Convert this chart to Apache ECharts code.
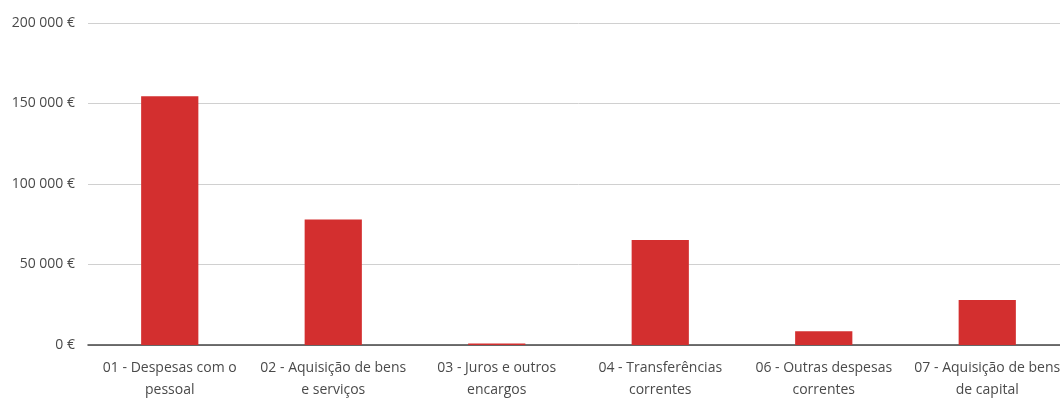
<!DOCTYPE html>
<html>
<head>
<meta charset="utf-8">
<script src="https://cdn.jsdelivr.net/npm/echarts@6/dist/echarts.min.js"></script>
<style>
  html, body { margin: 0; padding: 0; background: #fff; overflow: hidden; }
  /* o gráfico original é cortado à direita */
  #echarts { width: 1069px; height: 401px; }
</style>
</head>
<body>
<div id="echarts"></div>
<script>
// categorias (com quebra de linha como no original)
var categories = [
  '01 - Despesas com o\npessoal',
  '02 - Aquisição de bens\ne serviços',
  '03 - Juros e outros\nencargos',
  '04 - Transferências\ncorrentes',
  '06 - Outras despesas\ncorrentes',
  '07 - Aquisição de bens\nde capital'
];
var valores = [154500, 78000, 900, 65200, 8500, 28000];
var yTicks = [0, 50000, 100000, 150000, 200000];

var fonte = "'Open Sans', sans-serif";

function fmtEuro(v){
  return String(v).replace(/\B(?=(\d{3})+(?!\d))/g, ' ') + ' €';
}

var option = {
  animation: false,
  grid: {
    top: 23,
    left: 88,
    right: 0,
    bottom: 55,
    containLabel: false
  },
  xAxis: {
    type: 'category',
    data: categories,
    axisTick: { show: false },
    axisLine: { lineStyle: { color: '#444', width: 1.5 } },
    axisLabel: {
      color: '#4a4a4a',
      fontFamily: fonte,
      fontSize: 14,
      lineHeight: 22,
      margin: 12,
      interval: 0
    }
  },
  yAxis: {
    type: 'value',
    min: yTicks[0],
    max: yTicks[yTicks.length - 1],
    interval: 50000,
    axisLine: { show: false },
    axisTick: { show: false },
    splitLine: { lineStyle: { color: '#d0d0d0', width: 1 } },
    axisLabel: {
      color: '#4a4a4a',
      fontFamily: fonte,
      fontSize: 14,
      margin: 13,
      formatter: fmtEuro
    }
  },
  series: [{
    type: 'bar',
    data: valores,
    barWidth: '35%',
    itemStyle: { color: '#d32f2f' }
  }]
};

var grafico = echarts.init(document.getElementById('echarts'));
grafico.setOption(option);
</script>
</body>
</html>
